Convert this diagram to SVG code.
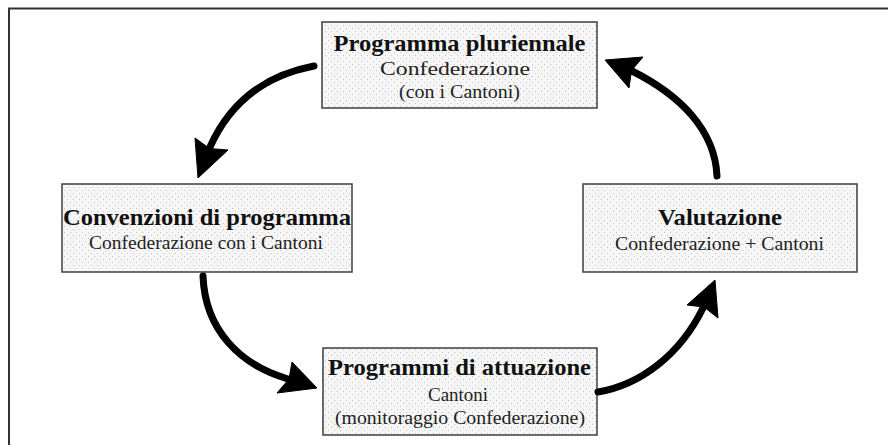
<svg xmlns="http://www.w3.org/2000/svg" width="888" height="445" viewBox="0 0 888 445">
  <defs>
    <pattern id="dots" width="6" height="6" patternUnits="userSpaceOnUse">
      <rect width="6" height="6" fill="#f6f6f6"/>
      <rect x="1" y="1" width="1" height="1" fill="#c4c4c4"/>
      <rect x="4" y="4" width="1" height="1" fill="#c4c4c4"/>
    </pattern>
    <style>
      .box { fill: url(#dots); stroke: #4a4a4a; stroke-width: 1.6; }
      .title { font-family: "Liberation Serif", "Times New Roman", serif; font-weight: bold; font-size: 24px; fill: #111; text-anchor: middle; }
      .sub { font-family: "Liberation Serif", "Times New Roman", serif; font-size: 18px; fill: #222; text-anchor: middle; }
      .shaft { fill: none; stroke: #000; stroke-width: 7; stroke-linecap: round; }
      .head { fill: #000; stroke: #000; stroke-width: 1; stroke-linejoin: miter; }
    </style>
  </defs>

  <rect width="888" height="445" fill="#fff"/>

  <!-- outer frame: top and left edges only -->
  <path d="M 9 445 L 9 8.5 L 888 8.5" fill="none" stroke="#333" stroke-width="2"/>

  <g id="node-programma-pluriennale">
    <rect class="box" x="322" y="22" width="275" height="86"/>
    <text class="title" x="459.5" y="51" textLength="252" lengthAdjust="spacingAndGlyphs">Programma pluriennale</text>
    <text class="sub" x="455" y="75" font-size="19" textLength="150" lengthAdjust="spacingAndGlyphs">Confederazione</text>
    <text class="sub" x="459.5" y="98" font-size="19" textLength="121" lengthAdjust="spacingAndGlyphs">(con i Cantoni)</text>
  </g>

  <g id="node-convenzioni">
    <rect class="box" x="62" y="184" width="290" height="88"/>
    <text class="title" x="207" y="225" textLength="288" lengthAdjust="spacingAndGlyphs">Convenzioni di programma</text>
    <text class="sub" x="206" y="249" textLength="234" lengthAdjust="spacingAndGlyphs">Confederazione con i Cantoni</text>
  </g>

  <g id="node-programmi-attuazione">
    <rect class="box" x="323" y="348" width="274" height="87"/>
    <text class="title" x="459.5" y="375" textLength="263" lengthAdjust="spacingAndGlyphs">Programmi di attuazione</text>
    <text class="sub" x="458" y="401" textLength="60" lengthAdjust="spacingAndGlyphs">Cantoni</text>
    <text class="sub" x="460" y="424" textLength="250" lengthAdjust="spacingAndGlyphs">(monitoraggio Confederazione)</text>
  </g>

  <g id="node-valutazione">
    <rect class="box" x="583" y="184" width="274" height="88"/>
    <text class="title" x="720" y="225" textLength="124" lengthAdjust="spacingAndGlyphs">Valutazione</text>
    <text class="sub" x="719.5" y="250" textLength="209" lengthAdjust="spacingAndGlyphs">Confederazione + Cantoni</text>
  </g>

  <g id="connectors">
    <!-- programma pluriennale -> convenzioni -->
    <path class="shaft" d="M 314 66 Q 240 80 210 147"/>
    <polygon class="head" points="195,138 209.5,148.5 228,150 198,178"/>
    <!-- convenzioni -> programmi di attuazione -->
    <path class="shaft" d="M 203 276 C 205 330 240 365 288 379"/>
    <polygon class="head" points="292,362 289,379 277,393 317,388"/>
    <!-- programmi di attuazione -> valutazione -->
    <path class="shaft" d="M 598 392 C 640 385 680 355 703 308"/>
    <polygon class="head" points="687,305 704,307 718,318 715,280"/>
    <!-- valutazione -> programma pluriennale -->
    <path class="shaft" d="M 717 176 C 715 130 680 95 632 71"/>
    <polygon class="head" points="643,57 631.5,70.5 629,88 605,60"/>
  </g>
</svg>
